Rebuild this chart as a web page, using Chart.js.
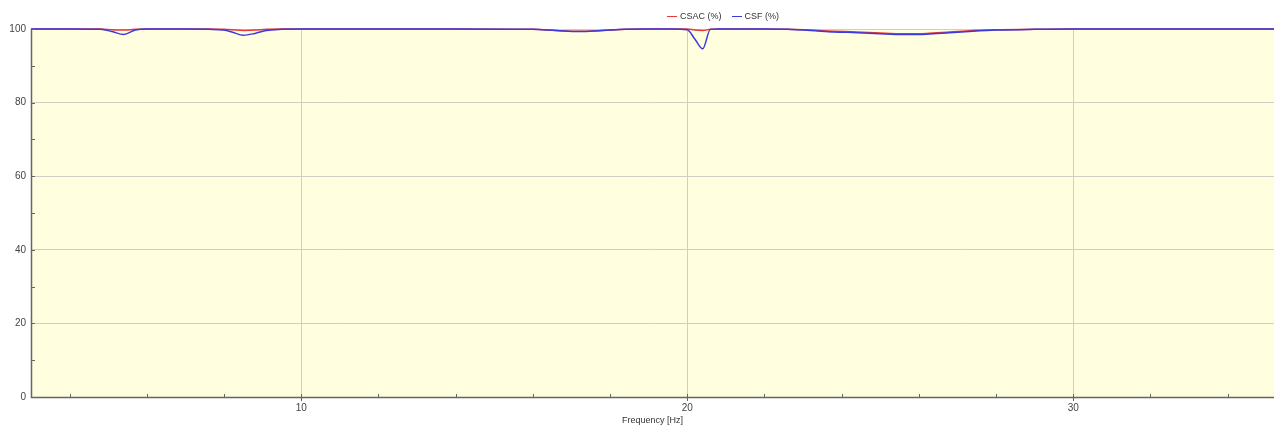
<!DOCTYPE html>
<html>
<head>
<meta charset="utf-8">
<script src="https://cdn.jsdelivr.net/npm/chart.js@4/dist/chart.umd.min.js"></script>
<style>
  html, body { margin: 0; padding: 0; background: #fff; }
  #wrap { position: relative; width: 1274px; height: 426px; }
  #legend {
    position: absolute; top: 11px; left: 667px;
    font: 9px "Liberation Sans", Arial, sans-serif; color: #333;
    display: flex; gap: 10px; white-space: nowrap;
  }
  #legend span.sw { display: inline-block; width: 10px; height: 0; border-top: 1px solid; vertical-align: middle; margin-right: 3px; }
</style>
</head>
<body>
<div id="wrap">
  <canvas id="chart" width="1274" height="426"></canvas>
  <div id="legend"></div>
</div>
<script>
'use strict';

// ─── Data ────────────────────────────────────────────────────────────────────
const freqHz = [3, 4, 4.8, 5.1, 5.4, 5.7, 6, 7, 7.6, 8, 8.2, 8.5, 8.8, 9.1, 9.5, 10,
  12, 14, 16, 16.6, 17.2, 17.8, 18.4, 19, 19.6, 20, 20.2, 20.4, 20.6, 20.8, 21,
  22, 22.6, 23.2, 23.8, 24.4, 25, 25.6, 26.2, 26.8, 27.4, 28, 29, 30, 32, 34, 35.2];

const csac = [100, 100, 100, 99.8, 99.7, 99.9, 100, 100, 100, 99.9, 99.8, 99.6, 99.7, 99.9, 100, 100,
  100, 100, 99.9, 99.6, 99.4, 99.6, 99.9, 100, 100, 100, 99.7, 99.6, 99.9, 100, 100,
  100, 99.9, 99.7, 99.4, 99.2, 98.9, 98.7, 98.8, 99.2, 99.6, 99.8, 99.9, 100, 100, 100, 100];

const csf = [100, 100, 99.9, 99.3, 98.5, 99.7, 100, 100, 99.9, 99.7, 99.2, 98.3, 98.8, 99.6, 99.9, 100,
  100, 100, 99.9, 99.6, 99.3, 99.6, 99.9, 100, 100, 99.8, 97.2, 94.6, 99.9, 100, 100,
  100, 99.9, 99.6, 99.2, 99.0, 98.7, 98.5, 98.6, 99.0, 99.4, 99.7, 99.9, 100, 100, 100, 100];

const seriesNames = ['CSAC (%)', 'CSF (%)'];
const xTicks = [4, 6, 8, 10, 12, 14, 16, 18, 20, 22, 24, 26, 28, 30, 32, 34];
const yTicks = [0, 10, 20, 30, 40, 50, 60, 70, 80, 90, 100];

// ─── Colors ──────────────────────────────────────────────────────────────────
const colors = {
  red: '#e8383a',
  blue: '#3a3ade',
  plotBg: '#ffffe0',
  grid: '#cfcfc8',
  axis: '#666660',
  text: '#444',
};

const toPoints = vals => freqHz.map((f, i) => ({ x: f, y: vals[i] }));

// ─── Plugins ─────────────────────────────────────────────────────────────────
const plotBackground = {
  id: 'plotBackground',
  beforeDraw(chart) {
    const { ctx, chartArea: a } = chart;
    ctx.save();
    ctx.fillStyle = colors.plotBg;
    ctx.fillRect(a.left, a.top, a.right - a.left, a.bottom - a.top);
    ctx.restore();
  }
};

// small tick marks drawn inside the plot, plus the axis lines
const innerTicks = {
  id: 'innerTicks',
  afterDatasetsDraw(chart) {
    const { ctx, chartArea: a, scales } = chart;
    ctx.save();
    ctx.strokeStyle = colors.axis;
    ctx.lineWidth = 1;
    ctx.beginPath();
    xTicks.forEach(v => {
      const px = Math.round(scales.x.getPixelForValue(v)) + 0.5;
      ctx.moveTo(px, a.bottom);
      ctx.lineTo(px, a.bottom - 3);
    });
    yTicks.forEach(v => {
      const py = Math.round(scales.y.getPixelForValue(v)) + 0.5;
      ctx.moveTo(a.left, py);
      ctx.lineTo(a.left + 4, py);
    });
    ctx.stroke();
    ctx.lineWidth = 1.5;
    ctx.beginPath();
    ctx.moveTo(a.left + 0.5, a.top);
    ctx.lineTo(a.left + 0.5, a.bottom + 0.5);
    ctx.lineTo(a.right, a.bottom + 0.5);
    ctx.stroke();
    ctx.restore();
  }
};

// ─── Chart ───────────────────────────────────────────────────────────────────
const tickFont = { family: '"Liberation Sans", Arial, sans-serif', size: 10 };

new Chart(document.getElementById('chart'), {
  type: 'line',
  data: {
    datasets: [
      { label: seriesNames[0], data: toPoints(csac), borderColor: colors.red, borderWidth: 1.5, pointRadius: 0, order: 1, clip: false, cubicInterpolationMode: 'monotone' },
      { label: seriesNames[1], data: toPoints(csf), borderColor: colors.blue, borderWidth: 1.5, pointRadius: 0, order: 0, clip: false, cubicInterpolationMode: 'monotone' },
    ]
  },
  options: {
    responsive: false,
    animation: false,
    layout: { padding: { top: 29, right: 0, left: 0, bottom: 0 } },
    plugins: { legend: { display: false }, tooltip: { enabled: false } },
    scales: {
      x: {
        type: 'linear',
        min: 3,
        max: 35.2,
        afterBuildTicks: s => { s.ticks = xTicks.map(v => ({ value: v })); },
        afterFit: s => { s.height = 29; },
        border: { display: false },
        grid: {
          color: c => (c.tick && c.tick.value % 10 === 0) ? colors.grid : 'transparent',
          tickColor: c => (c.tick && c.tick.value % 10 === 0) ? colors.axis : 'transparent',
          tickLength: 4,
        },
        ticks: {
          autoSkip: false, maxRotation: 0, padding: 1,
          color: colors.text, font: tickFont,
          callback: v => v % 10 === 0 ? String(v) : '',
        },
        title: {
          display: true, text: 'Frequency [Hz]', color: '#333',
          font: { family: '"Liberation Sans", Arial, sans-serif', size: 9 },
          padding: { top: 0, bottom: 0 },
        },
      },
      y: {
        min: 0,
        max: 100,
        afterBuildTicks: s => { s.ticks = yTicks.map(v => ({ value: v })); },
        afterFit: s => { s.width = 31; },
        border: { display: false },
        grid: {
          color: c => (c.tick && c.tick.value % 20 === 0 && c.tick.value > 0) ? colors.grid : 'transparent',
          drawTicks: false,
        },
        ticks: {
          autoSkip: false, padding: 5,
          color: colors.text, font: tickFont,
          callback: v => v % 20 === 0 ? String(v) : '',
        },
      },
    },
  },
  plugins: [plotBackground, innerTicks],
});

// ─── Legend ──────────────────────────────────────────────────────────────────
const legendEl = document.getElementById('legend');
[[seriesNames[0], colors.red], [seriesNames[1], colors.blue]].forEach(([name, col]) => {
  const item = document.createElement('span');
  item.innerHTML = `<span class="sw" style="border-color:${col}"></span>${name}`;
  legendEl.appendChild(item);
});
</script>
</body>
</html>
